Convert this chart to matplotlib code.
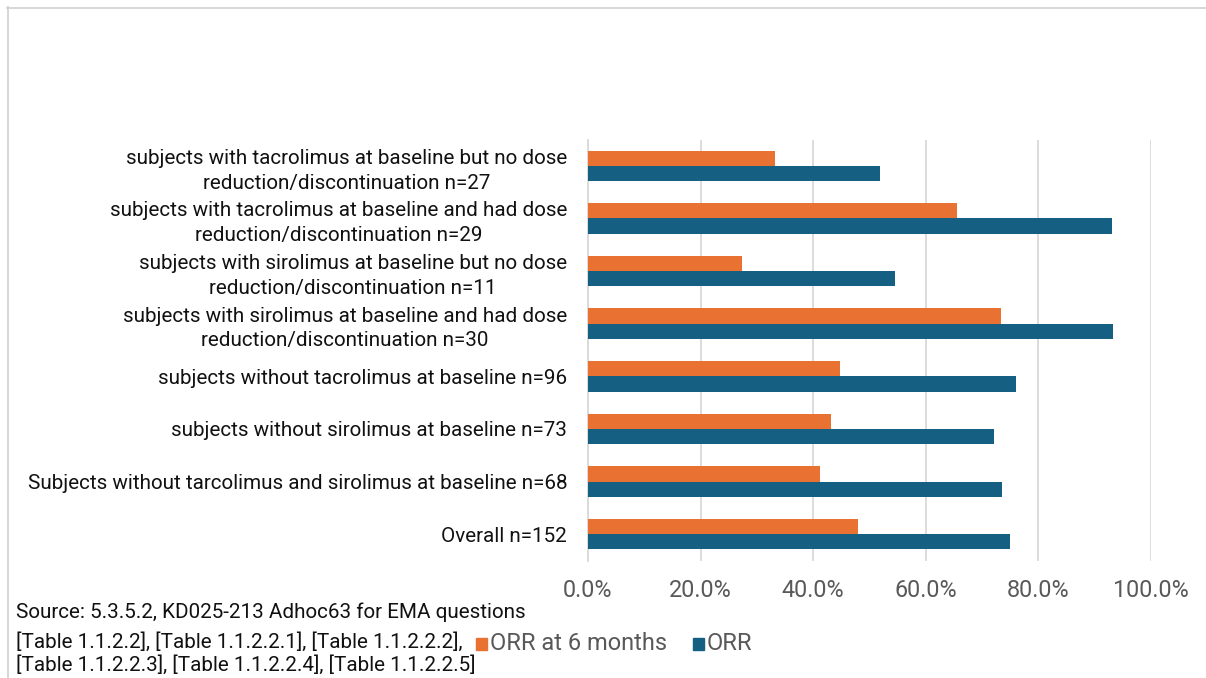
import matplotlib
matplotlib.use("Agg")
import matplotlib.pyplot as plt
from matplotlib.ticker import FuncFormatter
from matplotlib.lines import Line2D
import numpy as np

# Subgroups, listed bottom to top as drawn on the y axis
categories = [
    "Overall n=152",
    "Subjects without tarcolimus and sirolimus at baseline n=68",
    "subjects without sirolimus at baseline n=73",
    "subjects without tacrolimus at baseline n=96",
    "subjects with sirolimus at baseline and had dose\nreduction/discontinuation n=30",
    "subjects with sirolimus at baseline but no dose\nreduction/discontinuation n=11",
    "subjects with tacrolimus at baseline and had dose\nreduction/discontinuation n=29",
    "subjects with tacrolimus at baseline but no dose\nreduction/discontinuation n=27",
]
orr_6m = [48.0, 41.2, 43.2, 44.8, 73.3, 27.3, 65.5, 33.3]
orr = [75.0, 73.5, 72.2, 76.0, 93.3, 54.5, 93.1, 51.9]

series_names = ["ORR at 6 months", "ORR"]
x_ticks = [0, 20, 40, 60, 80, 100]

ORANGE = "#E97132"
BLUE = "#156082"
GRID = "#D9D9D9"
TICK_GREY = "#595959"

plt.rcParams["font.family"] = ["Roboto", "DejaVu Sans"]

W, H = 1206, 678
fig = plt.figure(figsize=(W / 100, H / 100), dpi=100)

# light outline of the chart area (top and left edges visible)
fig.add_artist(Line2D([7 / W, 1.0], [1 - 7.5 / H, 1 - 7.5 / H], transform=fig.transFigure,
                      color="#D0D0D0", lw=1.2))
fig.add_artist(Line2D([7.5 / W, 7.5 / W], [0.0, 1 - 7 / H], transform=fig.transFigure,
                      color="#D0D0D0", lw=1.2))

ax_l, ax_r = 588 / W, 1151 / W
ax_top, ax_bot = 139.5 / H, 560.5 / H
ax = fig.add_axes([ax_l, 1 - ax_bot, ax_r - ax_l, ax_bot - ax_top])

y = np.arange(len(categories))
h = 0.29
ax.barh(y + h / 2, orr_6m, height=h, color=ORANGE, zorder=3, label=series_names[0])
ax.barh(y - h / 2, orr, height=h, color=BLUE, zorder=3, label=series_names[1])

ax.set_xlim(0, 100)
ax.set_ylim(-0.5, len(categories) - 0.5)
ax.set_xticks(x_ticks)
ax.xaxis.set_major_formatter(FuncFormatter(lambda v, p: f"{v:.1f}%"))
ax.grid(axis="x", color=GRID, lw=1.3, zorder=0)
ax.set_axisbelow(True)

for s in ["top", "right", "bottom"]:
    ax.spines[s].set_visible(False)
ax.spines["left"].set_color(GRID)
ax.spines["left"].set_linewidth(1.3)

ax.tick_params(axis="x", length=0, pad=13, labelsize=16.8, labelcolor=TICK_GREY)
ax.tick_params(axis="y", length=0, pad=15)
ax.set_yticks(y)
ax.set_yticklabels(categories, fontsize=14.9, color="#111111", multialignment="center",
                   linespacing=1.38)

# source note
src = [
    ("Source: 5.3.5.2, KD025-213 Adhoc63 for EMA questions", 612),
    ("[Table 1.1.2.2], [Table 1.1.2.2.1], [Table 1.1.2.2.2],", 642),
    ("[Table 1.1.2.2.3], [Table 1.1.2.2.4], [Table 1.1.2.2.5]", 665),
]
for txt, py in src:
    fig.text(16 / W, 1 - py / H, txt, fontsize=14.9, color="#111111", va="center", ha="left")

# legend
for (name, col), lx in zip(zip(series_names, [ORANGE, BLUE]), [476, 693]):
    fig.patches.append(plt.Rectangle((lx / W, 1 - 650 / H), 11 / W, 12 / H,
                                     transform=fig.transFigure, color=col, figure=fig))
    fig.text((lx + 14) / W, 1 - 643 / H, name, fontsize=17, color=TICK_GREY,
             va="center", ha="left")

fig.savefig("out.png", dpi=100, facecolor="white")
